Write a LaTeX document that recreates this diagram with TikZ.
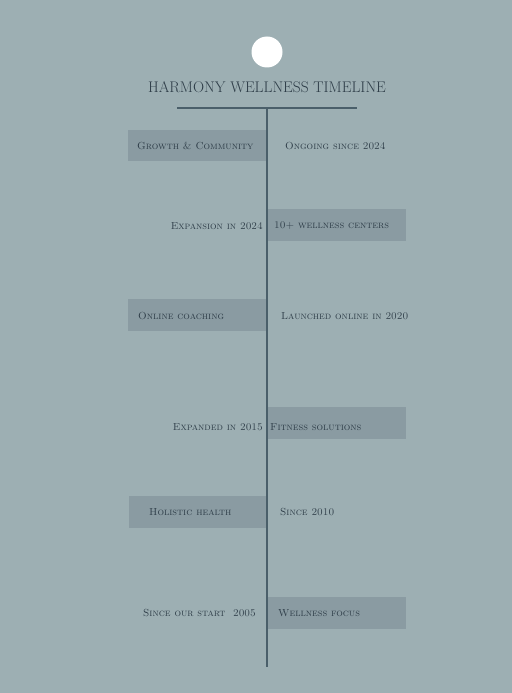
\documentclass[tikz,border=0pt]{standalone}
\usepackage{fontspec}
\definecolor{bgc}{HTML}{9DAFB3}
\definecolor{boxc}{HTML}{8A9BA2}
\definecolor{linec}{HTML}{4A5F6A}
\definecolor{txtc}{HTML}{2E3D48}
\tikzset{
  lbl/.style={font=\fontsize{10.3}{12}\selectfont\scshape, text=txtc, inner sep=0pt},
  lblL/.style={lbl, anchor=west},
  lblR/.style={lbl, anchor=east},
  tbox/.style={fill=boxc, draw=none},
}
\begin{document}
\begin{tikzpicture}[x=1bp,y=-1bp]
\fill[bgc] (0,0) rectangle (512,693);
\useasboundingbox (0,0) rectangle (512,693);
% circle and title
\node[circle, fill=white, minimum size=31bp, inner sep=0pt] (dot) at (267,52) {};
\node[font=\fontsize{15.5}{18}\selectfont, text=txtc, inner sep=0pt] (title) at (267,87) {HARMONY WELLNESS TIMELINE};
\coordinate (hl) at (177,108);
\coordinate (hr) at (357,108);
\draw[linec, line width=1.6bp] (hl) -- (hr);
% boxes
\fill[boxc] (128,130) rectangle (266,161);
\fill[boxc] (267,209) rectangle (406,241);
\fill[boxc] (128,299) rectangle (266,331);
\fill[boxc] (267,407) rectangle (406,439);
\fill[boxc] (129,496) rectangle (266,528);
\fill[boxc] (267,597) rectangle (406,629);
% timeline
\coordinate (vt) at (267,108);
\coordinate (vb) at (267,667);
\draw[linec, line width=1.6bp] (vt) -- (vb);
% texts
\node[lblL] (a1) at (137,146) {Growth \& Community};
\node[lblL] (b1) at (285,146) {Ongoing since 2024};
\node[lblR] (a2) at (263,226) {Expansion in 2024};
\node[lblL] (b2) at (274,226) {10+ wellness centers};
\node[lblL] (a3) at (138,316) {Online coaching};
\node[lblL] (b3) at (281,316) {Launched online in 2020};
\node[lblR] (a4) at (263,427) {Expanded in 2015};
\node[lblL] (b4) at (270,427) {Fitness solutions};
\node[lblL] (a5) at (149,512) {Holistic health};
\node[lblL] (b5) at (280,512) {Since 2010};
\node[lblR] (a6) at (256,613) {Since our start\ \ 2005};
\node[lblL] (b6) at (278,613) {Wellness focus};
\end{tikzpicture}
\end{document}
